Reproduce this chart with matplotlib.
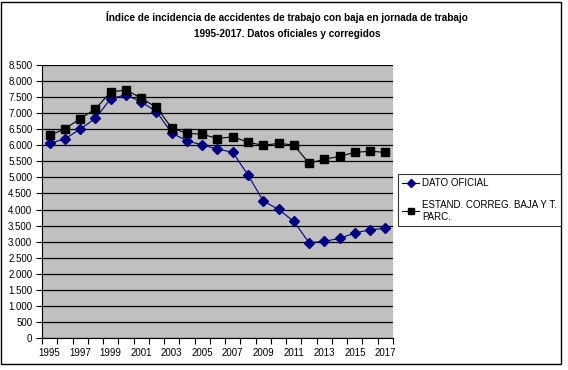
import matplotlib
matplotlib.use("Agg")
import matplotlib.pyplot as plt
from matplotlib.ticker import FuncFormatter, MultipleLocator
from matplotlib.patches import Rectangle

plt.rcParams['font.family'] = ['Liberation Sans', 'DejaVu Sans']

# datos
years = list(range(1995, 2018))
oficial = [6060, 6200, 6500, 6840, 7450, 7570, 7350, 7050, 6380, 6140, 6010, 5885,
           5780, 5075, 4265, 4005, 3630, 2965, 3010, 3100, 3270, 3370, 3415]
corregido = [6310, 6510, 6830, 7130, 7660, 7720, 7470, 7180, 6540, 6370, 6345, 6210,
             6265, 6095, 6000, 6060, 6010, 5440, 5565, 5655, 5780, 5815, 5780]
label_oficial = "DATO OFICIAL"
label_corr = "ESTAND. CORREG. BAJA Y T.\nPARC."
titulo = ("Índice de incidencia de accidentes de trabajo con baja en jornada de trabajo\n"
          "1995-2017. Datos oficiales y corregidos")

fig = plt.figure(figsize=(5.68, 3.70), dpi=100)
ax = fig.add_axes([42 / 568, 32 / 370, 351 / 568, 273 / 370])
ax.set_facecolor('#C0C0C0')

ax.plot(years, oficial, color='#000080', marker='D', markersize=4.8, linewidth=0.8,
        label=label_oficial, zorder=3)
ax.plot(years, corregido, color='black', marker='s', markersize=5.5, linewidth=0.8,
        label=label_corr, zorder=3)

ax.set_xlim(1994.5, 2017.5)
ax.set_ylim(0, 8500)
ax.yaxis.set_major_locator(MultipleLocator(500))
ax.yaxis.set_major_formatter(FuncFormatter(lambda v, p: f"{int(v):,}".replace(",", ".")))
ax.grid(axis='y', color='black', linewidth=0.9)
ax.set_axisbelow(True)

ax.set_xticks(years[::2])
ax.set_xticks([y - 0.5 for y in years] + [2017.5], minor=True)
ax.tick_params(axis='x', which='major', length=0, pad=7, labelsize=7)
ax.tick_params(axis='x', which='minor', length=4, width=0.8, direction='out')
ax.tick_params(axis='y', length=4, width=0.8, labelsize=7, pad=3)

for s in ['top', 'right']:
    ax.spines[s].set_visible(False)
ax.spines['left'].set_color('black')
ax.spines['bottom'].set_color('black')

fig.text(287 / 568, 1 - 25 / 370, titulo, ha='center', va='center', fontsize=7.2,
         fontweight='bold', linespacing=1.75)

leg = fig.legend(loc='upper left', bbox_to_anchor=(398 / 568, 1 - 174 / 370),
                 fontsize=7, frameon=True, fancybox=False, handlelength=1.7,
                 handletextpad=0.3, labelspacing=1.2, borderpad=0.45,
                 borderaxespad=0, markerscale=0.8)
leg.get_frame().set_edgecolor('black')
leg.get_frame().set_linewidth(0.8)

fig.patches.append(Rectangle((1 / 568, 6 / 370), 560 / 568, 362 / 370,
                             transform=fig.transFigure, fill=False,
                             edgecolor='black', linewidth=1.0))

fig.savefig("out.png", dpi=100)
